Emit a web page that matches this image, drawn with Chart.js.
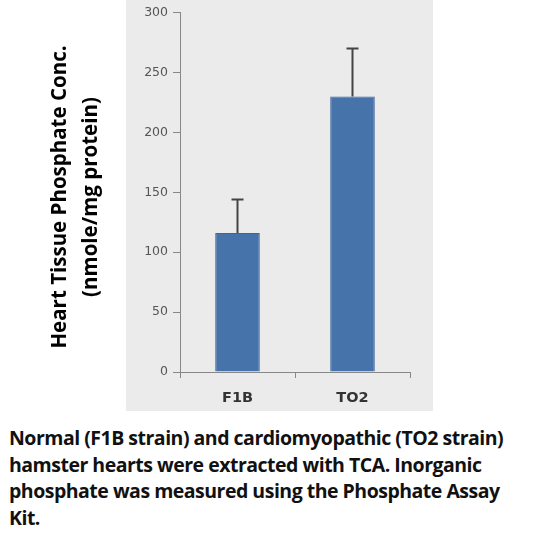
<!DOCTYPE html>
<html><head><meta charset="utf-8">
<script src="https://cdn.jsdelivr.net/npm/chart.js@4"></script>
<style>
body{margin:0;background:#fff;width:559px;height:558px;position:relative;overflow:hidden;font-family:"Open Sans",sans-serif}
#bg{position:absolute;left:126px;top:0;width:307px;height:411px;background:#ebebeb}
#wrap{position:absolute;left:0;top:0;width:559px;height:420px}
#cap{position:absolute;left:9px;top:425px;font-weight:bold;font-size:19.5px;line-height:26.5px;color:#111;white-space:nowrap;letter-spacing:-0.5px}
</style></head><body>
<div id="bg"></div>
<div id="wrap"><canvas id="c"></canvas></div>
<div id="cap">Normal (F1B strain) and cardiomyopathic (TO2 strain)<br>hamster hearts were extracted with TCA. Inorganic<br>phosphate was measured using the Phosphate Assay<br>Kit.</div>
<script>
const categories=["F1B","TO2"];
const values=[116,230];
const errorsUp=[28,40];
const yTicks=[0,50,100,150,200,250,300];
const titleLines=["Heart Tissue Phosphate Conc.","(nmole/mg protein)"];

const extra={id:'extra',afterDatasetsDraw(ch){
  const ctx=ch.ctx,x=ch.scales.x,y=ch.scales.y;
  ctx.save();ctx.strokeStyle='#444';ctx.lineWidth=2;
  values.forEach((v,i)=>{const px=x.getPixelForValue(i);const y0=y.getPixelForValue(v),y1=y.getPixelForValue(v+errorsUp[i]);
    ctx.beginPath();ctx.moveTo(px,y0);ctx.lineTo(px,y1);ctx.moveTo(px-6,y1);ctx.lineTo(px+6,y1);ctx.stroke();});
  ctx.fillStyle='#000';ctx.font='bold 20.5px "Open Sans"';ctx.textAlign='center';ctx.textBaseline='middle';
  ctx.translate(0,197);ctx.rotate(-Math.PI/2);
  ctx.fillText(titleLines[0],0,60);ctx.fillText(titleLines[1],0,91);
  ctx.restore();}};

new Chart(document.getElementById('c'),{type:'bar',
 data:{labels:categories,datasets:[{data:values,backgroundColor:'#4673aa',borderColor:'#3c659a',borderWidth:1,categoryPercentage:0.76,barPercentage:0.51}]},
 options:{responsive:true,maintainAspectRatio:false,animation:false,
  layout:{padding:{left:0,right:149,top:10,bottom:0}},
  plugins:{legend:{display:false},tooltip:{enabled:false}},
  scales:{
   y:{min:0,max:300,afterBuildTicks(s){s.ticks=yTicks.map(v=>({value:v}));},afterFit(s){s.width=180;},
      grid:{drawOnChartArea:false,tickLength:7,color:'#888'},border:{color:'#888'},
      ticks:{color:'#555',font:{family:'DejaVu Sans',size:12.5},padding:5}},
   x:{offset:true,grid:{drawOnChartArea:false,tickLength:6,color:'#888',offset:true},border:{color:'#888'},
      afterFit(s){s.height=48;},
      ticks:{color:'#333',font:{family:'DejaVu Sans',size:14.5,weight:'bold'},padding:12}}
  }},plugins:[extra]});
</script></body></html>
